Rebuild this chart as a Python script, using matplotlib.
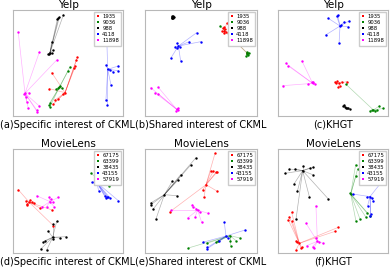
import matplotlib
matplotlib.use("Agg")
import matplotlib.pyplot as plt
from matplotlib.lines import Line2D

# each cluster: first point is the centre, the rest link to it
COLORS = ["red", "green", "black", "blue", "magenta"]
YELP_LABELS = ["1935", "9036", "988", "4118", "11898"]
ML_LABELS = ["67175", "63399", "38435", "43155", "57919"]

# (a) Yelp, specific interest of CKML
A_RED = [(0.473, 0.220), (0.585, 0.553), (0.576, 0.528), (0.567, 0.472), (0.555, 0.450),
         (0.352, 0.409), (0.330, 0.258), (0.452, 0.204), (0.412, 0.160), (0.382, 0.151), (0.367, 0.113)]
A_GREEN = [(0.421, 0.270), (0.518, 0.465), (0.503, 0.428), (0.427, 0.283), (0.412, 0.261),
           (0.442, 0.261), (0.391, 0.252), (0.336, 0.126), (0.330, 0.104), (0.336, 0.088)]
A_BLACK = [(0.336, 0.597), (0.458, 0.953), (0.421, 0.931), (0.412, 0.921), (0.403, 0.912),
           (0.352, 0.701), (0.321, 0.585), (0.352, 0.591), (0.361, 0.623), (0.330, 0.585)]
A_BLUE = [(0.861, 0.440), (0.852, 0.748), (0.845, 0.481), (0.882, 0.434), (0.958, 0.472),
          (0.958, 0.428), (0.912, 0.418), (0.891, 0.292), (0.845, 0.151), (0.858, 0.104)]
A_MAGENTA = [(0.109, 0.214), (0.048, 0.789), (0.239, 0.601), (0.397, 0.528), (0.100, 0.208),
             (0.148, 0.220), (0.118, 0.176), (0.124, 0.135), (0.139, 0.072), (0.215, 0.057),
             (0.239, 0.094), (0.221, 0.038)]

# (b) Yelp, shared interest of CKML
B_RED = [(0.708, 0.805), (0.729, 0.874), (0.708, 0.843), (0.699, 0.827), (0.714, 0.818),
         (0.690, 0.805), (0.720, 0.796), (0.705, 0.780), (0.914, 0.591)]
B_GREEN = [(0.914, 0.591), (0.908, 0.607), (0.923, 0.575), (0.902, 0.566), (0.929, 0.597),
           (0.910, 0.585), (0.670, 0.849)]
B_BLACK = [(0.247, 0.931), (0.240, 0.940), (0.252, 0.925), (0.245, 0.920), (0.255, 0.935),
           (0.238, 0.928), (0.250, 0.945), (0.243, 0.935)]
B_BLUE = [(0.298, 0.660), (0.461, 0.786), (0.396, 0.701), (0.497, 0.701), (0.283, 0.686),
          (0.313, 0.654), (0.289, 0.638), (0.268, 0.654), (0.229, 0.544), (0.318, 0.522)]
B_MAGENTA = [(0.283, 0.063), (0.051, 0.267), (0.119, 0.270), (0.089, 0.220), (0.119, 0.208),
             (0.292, 0.072), (0.277, 0.050), (0.298, 0.057)]

# (c) Yelp, KHGT
C_RED = [(0.558, 0.308), (0.518, 0.324), (0.539, 0.330), (0.579, 0.324), (0.624, 0.324),
         (0.564, 0.283), (0.548, 0.270), (0.530, 0.308)]
C_GREEN = [(0.867, 0.057), (0.618, 0.299), (0.921, 0.094), (0.958, 0.072), (0.852, 0.057),
           (0.882, 0.047), (0.836, 0.050), (0.897, 0.057)]
C_BLACK = [(0.624, 0.072), (0.600, 0.104), (0.609, 0.088), (0.639, 0.072), (0.655, 0.063),
           (0.615, 0.080), (0.590, 0.095)]
C_BLUE = [(0.564, 0.849), (0.542, 0.953), (0.533, 0.943), (0.458, 0.921), (0.603, 0.890),
          (0.648, 0.899), (0.639, 0.843), (0.573, 0.858), (0.433, 0.764), (0.555, 0.686)]
C_MAGENTA = [(0.315, 0.308), (0.070, 0.497), (0.094, 0.472), (0.218, 0.519), (0.042, 0.286),
             (0.276, 0.302), (0.321, 0.324), (0.336, 0.302), (0.306, 0.318)]

# (d) MovieLens, specific interest of CKML
D_RED = [(0.148, 0.487), (0.048, 0.609), (0.367, 0.263), (0.118, 0.503), (0.130, 0.471),
         (0.170, 0.487), (0.191, 0.478), (0.124, 0.465), (0.245, 0.433), (0.358, 0.413), (0.155, 0.510)]
D_GREEN = [(0.755, 0.728), (0.709, 0.766), (0.755, 0.734), (0.791, 0.728), (0.785, 0.745),
           (0.815, 0.679), (0.876, 0.641), (0.745, 0.670), (0.767, 0.696)]
D_BLACK = [(0.361, 0.151), (0.397, 0.304), (0.361, 0.279), (0.321, 0.208), (0.482, 0.157),
           (0.367, 0.135), (0.291, 0.119), (0.276, 0.103), (0.252, 0.038), (0.306, 0.029), (0.427, 0.144)]
D_BLUE = [(0.761, 0.679), (0.715, 0.679), (0.739, 0.686), (0.779, 0.599), (0.836, 0.551),
          (0.852, 0.542), (0.867, 0.535), (0.845, 0.526), (0.958, 0.503), (0.882, 0.529)]
D_MAGENTA = [(0.336, 0.494), (0.215, 0.551), (0.330, 0.535), (0.412, 0.535), (0.342, 0.519),
             (0.367, 0.487), (0.306, 0.446), (0.373, 0.446), (0.267, 0.446)]

# (e) MovieLens, shared interest of CKML
E_RED = [(0.545, 0.657), (0.625, 0.958), (0.589, 0.792), (0.610, 0.785), (0.634, 0.776),
         (0.646, 0.782), (0.515, 0.606), (0.527, 0.535), (0.646, 0.593), (0.223, 0.397)]
E_GREEN = [(0.759, 0.167), (0.387, 0.048), (0.551, 0.093), (0.655, 0.119), (0.759, 0.112),
           (0.765, 0.071), (0.812, 0.119), (0.848, 0.144), (0.634, 0.103)]
E_BLACK = [(0.173, 0.561), (0.452, 0.913), (0.411, 0.849), (0.318, 0.753), (0.298, 0.705),
           (0.244, 0.689), (0.283, 0.551), (0.051, 0.481), (0.054, 0.465), (0.074, 0.423), (0.098, 0.327)]
E_BLUE = [(0.723, 0.163), (0.708, 0.295), (0.893, 0.221), (0.744, 0.144), (0.664, 0.112),
          (0.515, 0.103), (0.551, 0.038), (0.557, 0.054)]
E_MAGENTA = [(0.470, 0.413), (0.423, 0.465), (0.432, 0.440), (0.229, 0.413), (0.381, 0.337),
             (0.491, 0.391), (0.506, 0.295), (0.565, 0.381), (0.455, 0.423), (0.446, 0.343)]

# (f) MovieLens, KHGT
F_RED = [(0.194, 0.093), (0.103, 0.349), (0.124, 0.391), (0.130, 0.304), (0.094, 0.317),
         (0.548, 0.247), (0.518, 0.208), (0.164, 0.119), (0.176, 0.103), (0.206, 0.048),
         (0.164, 0.029), (0.215, 0.054)]
F_GREEN = [(0.661, 0.567), (0.706, 0.849), (0.724, 0.808), (0.709, 0.744), (0.745, 0.327),
           (0.800, 0.343), (0.836, 0.359), (0.812, 0.381), (0.709, 0.304), (0.655, 0.574)]
F_BLACK = [(0.224, 0.792), (0.103, 0.808), (0.061, 0.766), (0.155, 0.808), (0.291, 0.817),
           (0.321, 0.824), (0.315, 0.753), (0.145, 0.663), (0.176, 0.593), (0.285, 0.542),
           (0.458, 0.519), (0.164, 0.327), (0.224, 0.840)]
F_BLUE = [(0.836, 0.542), (0.964, 0.712), (0.679, 0.567), (0.806, 0.535), (0.852, 0.526),
          (0.867, 0.503), (0.815, 0.455), (0.842, 0.375), (0.836, 0.359)]
F_MAGENTA = [(0.358, 0.112), (0.345, 0.455), (0.255, 0.285), (0.345, 0.144), (0.376, 0.103),
             (0.412, 0.093), (0.261, 0.071), (0.315, 0.061), (0.327, 0.048)]

PANELS = [
    ("Yelp", "(a)Specific interest of CKML", YELP_LABELS, [A_RED, A_GREEN, A_BLACK, A_BLUE, A_MAGENTA]),
    ("Yelp", "(b)Shared interest of CKML", YELP_LABELS, [B_RED, B_GREEN, B_BLACK, B_BLUE, B_MAGENTA]),
    ("Yelp", "(c)KHGT", YELP_LABELS, [C_RED, C_GREEN, C_BLACK, C_BLUE, C_MAGENTA]),
    ("MovieLens", "(d)Specific interest of CKML", ML_LABELS, [D_RED, D_GREEN, D_BLACK, D_BLUE, D_MAGENTA]),
    ("MovieLens", "(e)Shared interest of CKML", ML_LABELS, [E_RED, E_GREEN, E_BLACK, E_BLUE, E_MAGENTA]),
    ("MovieLens", "(f)KHGT", ML_LABELS, [F_RED, F_GREEN, F_BLACK, F_BLUE, F_MAGENTA]),
]

W, H = 390, 267
fig = plt.figure(figsize=(W / 100, H / 100), dpi=100)

# axes boxes in pixels: left, right, top, bottom
col_px = [(13, 123), (145, 257), (278, 388)]
row_px = [(10, 116), (149, 253)]

for i, (title, caption, labels, clusters) in enumerate(PANELS):
    l, r = col_px[i % 3]
    t, b = row_px[i // 3]
    ax = fig.add_axes([l / W, 1 - b / H, (r - l) / W, (b - t) / H])
    for pts, color, lab in zip(clusters, COLORS, labels):
        cx, cy = pts[0]
        for x, y in pts[1:]:
            ax.plot([cx, x], [cy, y], color=color, lw=0.5, alpha=0.3, zorder=1)
        xs = [p[0] for p in pts]
        ys = [p[1] for p in pts]
        ax.scatter(xs, ys, s=3, color=color, marker="o", linewidths=0, zorder=2)
    ax.set_xlim(0, 1)
    ax.set_ylim(0, 1)
    ax.set_xticks([])
    ax.set_yticks([])
    for sp in ax.spines.values():
        sp.set_color("#b8b8b8")
        sp.set_linewidth(0.8)
    ax.set_title(title, fontsize=7.5, pad=1.5)
    ax.text(0.5, -0.035, caption, transform=ax.transAxes, ha="center", va="top", fontsize=7)
    handles = [Line2D([], [], ls="none", marker="s", ms=1.6, color=c, mew=0) for c in COLORS]
    ax.legend(handles, labels, loc="upper right", fontsize=3.8, handlelength=0.6,
              handletextpad=0.5, borderpad=0.45, labelspacing=0.2, framealpha=1,
              edgecolor="#cccccc", fancybox=False, borderaxespad=0.3)

fig.savefig("out.png", dpi=100)
